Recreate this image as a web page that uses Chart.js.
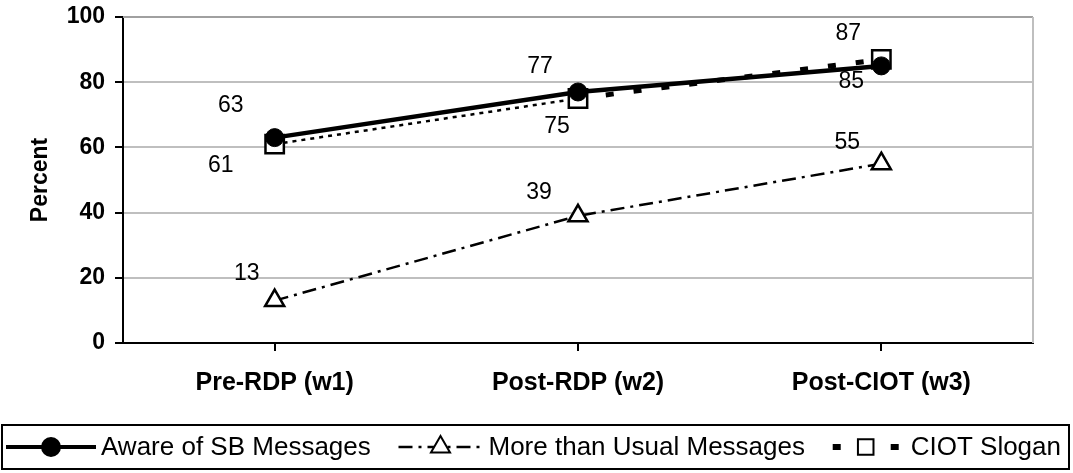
<!DOCTYPE html>
<html>
<head>
<meta charset="utf-8">
<script src="https://cdn.jsdelivr.net/npm/chart.js@4.4.1/dist/chart.umd.min.js"></script>
<style>
    html, body { margin: 0; padding: 0; background: #fff; }
    #wrap { width: 1073px; height: 473px; }
</style>
</head>
<body>
<div id="wrap"><canvas id="chart" width="1073" height="473"></canvas></div>
<script>
const categories = ['Pre-RDP (w1)', 'Post-RDP (w2)', 'Post-CIOT (w3)'];
const awareSB = [63, 77, 85];
const moreThanUsual = [13, 39, 55];
const ciotSlogan = [61, 75, 87];
const yTicks = [0, 20, 40, 60, 80, 100];
const seriesNames = ['Aware of SB Messages', 'More than Usual Messages', 'CIOT Slogan'];

// where each value label sits relative to its point (px)
const labelOffsets = [
    [[-44, -32], [-38, -25], [-30, 16]],
    [[-28, -27], [-39, -23], [-34, -21]],
    [[-54, 22], [-21, 28], [-33, -26]]
];

const FONT = '"Liberation Sans", Arial, sans-serif';
const DASH_DOT = [14, 6, 3, 6];

// value labels next to the markers
const valueLabels = {
    id: 'valueLabels',
    afterDatasetsDraw(chart) {
        const ctx = chart.ctx;
        ctx.save();
        ctx.font = '23px ' + FONT;
        ctx.fillStyle = '#000';
        ctx.textAlign = 'center';
        ctx.textBaseline = 'middle';
        chart.data.datasets.forEach((ds, i) => {
            const meta = chart.getDatasetMeta(i);
            meta.data.forEach((pt, j) => {
                const off = labelOffsets[i][j];
                ctx.fillText(String(ds.data[j]), pt.x + off[0], pt.y + off[1]);
            });
        });
        ctx.restore();
    }
};

// gray plot frame + boxed legend under the chart
const frameAndLegend = {
    id: 'frameAndLegend',
    afterDraw(chart) {
        const ctx = chart.ctx;
        const area = chart.chartArea;
        ctx.save();
        ctx.lineWidth = 2;
        ctx.strokeStyle = '#a0a0a0';
        ctx.beginPath();
        ctx.moveTo(area.left, area.top);
        ctx.lineTo(area.right, area.top);
        ctx.stroke();
        ctx.strokeStyle = '#bfbfbf';
        ctx.beginPath();
        ctx.moveTo(area.right, area.top);
        ctx.lineTo(area.right, area.bottom);
        ctx.stroke();

        const top = 425, bottom = 469, left = 2, right = 1069;
        const mid = (top + bottom) / 2;
        ctx.strokeStyle = '#000';
        ctx.lineWidth = 2;
        ctx.strokeRect(left, top, right - left, bottom - top);

        ctx.font = '26px ' + FONT;
        ctx.textBaseline = 'middle';
        ctx.textAlign = 'left';

        const items = [
            { w: 90, dash: [], width: 4, style: 'circle', r: 9, fill: '#000' },
            { w: 84, dash: DASH_DOT, width: 2.5, style: 'triangle', r: 11, fill: '#fff' },
            { w: 66, dash: [8, 21], width: 6, style: 'rect', r: 11, fill: '#fff' }
        ];
        const textGaps = [5, 6, 12];
        const startX = 6, endX = 1061;
        let used = 0;
        items.forEach((it, i) => { used += it.w + textGaps[i] + ctx.measureText(seriesNames[i]).width; });
        const itemGap = (endX - startX - used) / (items.length - 1);

        let x = startX;
        items.forEach((it, i) => {
            ctx.strokeStyle = '#000';
            ctx.lineWidth = it.width;
            ctx.lineCap = 'butt';
            ctx.setLineDash(it.dash);
            ctx.beginPath();
            ctx.moveTo(x, mid);
            ctx.lineTo(x + it.w, mid);
            ctx.stroke();
            ctx.setLineDash([]);
            ctx.lineWidth = 2;
            ctx.fillStyle = it.fill;
            Chart.helpers.drawPoint(ctx, { pointStyle: it.style, radius: it.r, borderWidth: 2, rotation: 0 },
                x + it.w / 2, mid);
            ctx.fillStyle = '#000';
            const tx = x + it.w + textGaps[i];
            ctx.fillText(seriesNames[i], tx, mid + 1);
            x = tx + ctx.measureText(seriesNames[i]).width + itemGap;
        });
        ctx.restore();
    }
};

new Chart(document.getElementById('chart').getContext('2d'), {
    type: 'line',
    data: {
        labels: categories,
        datasets: [
            {
                label: seriesNames[0],
                data: awareSB,
                borderColor: '#000',
                borderWidth: 4.5,
                pointStyle: 'circle',
                pointRadius: 9,
                pointBackgroundColor: '#000',
                pointBorderColor: '#000',
                pointBorderWidth: 1,
                tension: 0
            },
            {
                label: seriesNames[1],
                data: moreThanUsual,
                borderColor: '#000',
                borderWidth: 2.5,
                borderDash: DASH_DOT,
                pointStyle: 'triangle',
                pointRadius: 11,
                pointBackgroundColor: '#fff',
                pointBorderColor: '#000',
                pointBorderWidth: 2.5,
                tension: 0
            },
            {
                label: seriesNames[2],
                data: ciotSlogan,
                borderColor: '#000',
                borderWidth: 2.5,
                pointStyle: 'rect',
                pointRadius: 13,
                pointBackgroundColor: '#fff',
                pointBorderColor: '#000',
                pointBorderWidth: 2.5,
                tension: 0,
                segment: {
                    borderDash: ctx => ctx.p0DataIndex === 0 ? [4, 5] : [8, 20],
                    borderWidth: ctx => ctx.p0DataIndex === 0 ? 2.5 : 5
                }
            }
        ]
    },
    options: {
        responsive: false,
        animation: false,
        layout: { padding: { left: 0, top: 17, right: 40, bottom: 70 } },
        plugins: {
            legend: { display: false },
            tooltip: { enabled: false }
        },
        scales: {
            x: {
                offset: true,
                border: { color: '#000', width: 2 },
                grid: {
                    drawOnChartArea: false,
                    drawTicks: true,
                    tickLength: 8,
                    color: '#000',
                    lineWidth: 2
                },
                ticks: {
                    color: '#000',
                    padding: 17,
                    font: { family: FONT, size: 25, weight: 'bold' }
                },
                afterFit: (scale) => { scale.height = 60; }
            },
            y: {
                min: 0,
                max: 100,
                afterBuildTicks: (scale) => { scale.ticks = yTicks.map(v => ({ value: v })); },
                border: { color: '#000', width: 2 },
                grid: {
                    color: '#bfbfbf',
                    lineWidth: 2,
                    tickLength: 8,
                    tickColor: '#000'
                },
                ticks: {
                    color: '#000',
                    padding: 10,
                    font: { family: FONT, size: 23, weight: 'bold' }
                },
                title: {
                    display: true,
                    text: 'Percent',
                    color: '#000',
                    padding: { top: 27 },
                    font: { family: FONT, size: 23, weight: 'bold' }
                },
                afterFit: (scale) => {
                    scale.width = 123;
                    scale.paddingTop = 0;
                }
            }
        }
    },
    plugins: [valueLabels, frameAndLegend]
});
</script>
</body>
</html>
